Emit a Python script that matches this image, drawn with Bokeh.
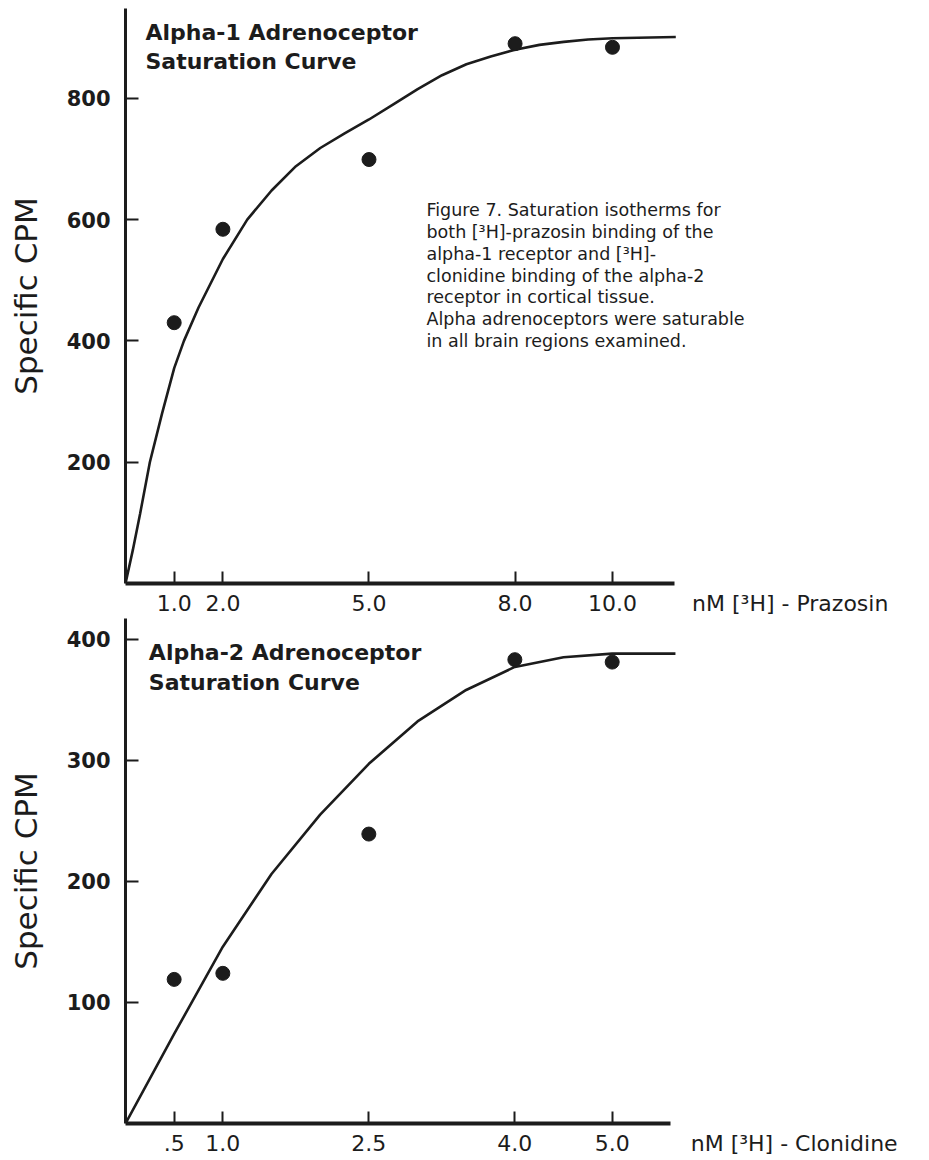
from bokeh.plotting import figure
from bokeh.layouts import column
from bokeh.models import Range1d, FixedTicker, Label, LinearAxis
from bokeh.embed import file_html
from bokeh.resources import INLINE

# ---------------- data ----------------
prazosin_nM = [1.0, 2.0, 5.0, 8.0, 10.0]
prazosin_cpm = [430, 584, 699, 890, 884]
prazosin_fit_nM = [0, 0.15, 0.3, 0.5, 0.75, 1.0, 1.2, 1.5, 2.0, 2.5, 3.0, 3.5, 4.0,
                   4.5, 5.0, 5.5, 6.0, 6.5, 7.0, 7.5, 8.0, 8.5, 9.0, 9.5, 10.0, 11.3]
prazosin_fit_cpm = [0, 55, 115, 200, 280, 355, 400, 455, 535, 600, 648, 688, 718,
                    742, 765, 790, 815, 838, 856, 869, 880, 888, 893, 897, 899, 901]

clonidine_nM = [0.5, 1.0, 2.5, 4.0, 5.0]
clonidine_cpm = [119, 124, 239, 383, 381]
clonidine_fit_nM = [0, 0.5, 1.0, 1.5, 2.0, 2.5, 3.0, 3.5, 4.0, 4.5, 5.0, 5.65]
clonidine_fit_cpm = [0, 74, 146, 206, 255, 297, 332, 358, 377, 385, 388, 388]

prazosin_ticks = [1.0, 2.0, 5.0, 8.0, 10.0]
prazosin_tick_labels = ["1.0", "2.0", "5.0", "8.0", "10.0"]
clonidine_ticks = [0.5, 1.0, 2.5, 4.0, 5.0]
clonidine_tick_labels = [".5", "1.0", "2.5", "4.0", "5.0"]
top_y_ticks = [200, 400, 600, 800]
bottom_y_ticks = [100, 200, 300, 400]

prazosin_axis_title = "nM [\u00b3H] - Prazosin"
clonidine_axis_title = "nM [\u00b3H] - Clonidine"
panel_titles_top = ["Alpha-1 Adrenoceptor", "Saturation Curve"]
panel_titles_bottom = ["Alpha-2 Adrenoceptor", "Saturation Curve"]
caption_lines = [
    "Figure 7. Saturation isotherms for",
    "both [\u00b3H]-prazosin binding of the",
    "alpha-1 receptor and [\u00b3H]-",
    "clonidine binding of the alpha-2",
    "receptor in cortical tissue.",
    "Alpha adrenoceptors were saturable",
    "in all brain regions examined.",
]

INK = "#1c1c1c"
FONT = "DejaVu Sans"


def style(p, xticks, xlabels, title_pos, title_text, yticks, xbound, ybound):
    p.outline_line_color = None
    p.grid.visible = False
    p.background_fill_color = "white"
    p.border_fill_color = "white"

    # axis rule + inward tick marks (drawn as minor ticks, so no labels here)
    xa = p.xaxis[0]
    xa.ticker = FixedTicker(ticks=[], minor_ticks=xticks)
    xa.bounds = xbound
    xa.axis_line_width = 4
    xa.axis_line_color = INK
    xa.major_tick_line_color = None
    xa.minor_tick_in = 12
    xa.minor_tick_out = 0
    xa.minor_tick_line_width = 2
    xa.minor_tick_line_color = INK
    xa.major_label_standoff = 0

    # tick labels and the axis title, on one label-only axis
    overrides = {t: l for t, l in zip(xticks, xlabels)}
    overrides[title_pos] = title_text
    lab = LinearAxis(ticker=FixedTicker(ticks=list(xticks) + [title_pos]),
                     major_label_overrides=overrides,
                     axis_line_color=None, major_tick_line_color=None,
                     minor_tick_line_color=None, major_tick_in=0, major_tick_out=0,
                     major_label_text_font=FONT, major_label_text_font_size="22px",
                     major_label_text_color=INK, major_label_standoff=7)
    p.add_layout(lab, "below")

    ya = p.yaxis[0]
    ya.ticker = FixedTicker(ticks=yticks)
    ya.bounds = ybound
    ya.axis_line_width = 3
    ya.axis_line_color = INK
    ya.major_tick_in = 13
    ya.major_tick_out = 0
    ya.major_tick_line_width = 2
    ya.major_tick_line_color = INK
    ya.minor_tick_line_color = None
    ya.major_label_text_font = FONT
    ya.major_label_text_font_size = "21px"
    ya.major_label_text_font_style = "bold"
    ya.major_label_text_color = INK
    ya.major_label_standoff = 15
    ya.axis_label = "Specific CPM"
    ya.axis_label_text_font = FONT
    ya.axis_label_text_font_size = "31px"
    ya.axis_label_text_font_style = "normal"
    ya.axis_label_text_color = INK
    ya.axis_label_standoff = 20


# ---------------- top panel: prazosin ----------------
p1 = figure(width=929, height=618, x_range=Range1d(0, 16.51), y_range=Range1d(0, 948),
            output_backend="svg", toolbar_location=None,
            min_border_left=125, min_border_right=0, min_border_top=8, min_border_bottom=35)
style(p1, prazosin_ticks, prazosin_tick_labels, 13.65, prazosin_axis_title,
      top_y_ticks, (0, 11.27), (0, 948))
p1.line(prazosin_fit_nM, prazosin_fit_cpm, line_width=2.6, line_color=INK)
p1.scatter(prazosin_nM, prazosin_cpm, size=14, fill_color=INK, line_color=INK)

for i, t in enumerate(panel_titles_top):
    p1.add_layout(Label(x=0.41, y=909 - 49 * i, text=t, text_font=FONT, text_font_size="22px",
                        text_font_style="bold", text_color=INK, text_baseline="middle"))
for i, t in enumerate(caption_lines):
    p1.add_layout(Label(x=6.18, y=615 - 35.8 * i, text=t, text_font=FONT, text_font_size="17.5px",
                        text_color=INK, text_baseline="middle"))

# ---------------- bottom panel: clonidine ----------------
p2 = figure(width=929, height=542, x_range=Range1d(0, 8.26), y_range=Range1d(0, 417),
            output_backend="svg", toolbar_location=None,
            min_border_left=125, min_border_right=0, min_border_top=0, min_border_bottom=37)
style(p2, clonidine_ticks, clonidine_tick_labels, 6.87, clonidine_axis_title,
      bottom_y_ticks, (0, 5.6), (0, 417))
p2.line(clonidine_fit_nM, clonidine_fit_cpm, line_width=2.6, line_color=INK)
p2.scatter(clonidine_nM, clonidine_cpm, size=14, fill_color=INK, line_color=INK)

for i, t in enumerate(panel_titles_bottom):
    p2.add_layout(Label(x=0.24, y=389 - 24.5 * i, text=t, text_font=FONT, text_font_size="22px",
                        text_font_style="bold", text_color=INK, text_baseline="middle"))

layout = column(p1, p2, spacing=0)
open("out.html", "w").write(file_html(layout, INLINE))
